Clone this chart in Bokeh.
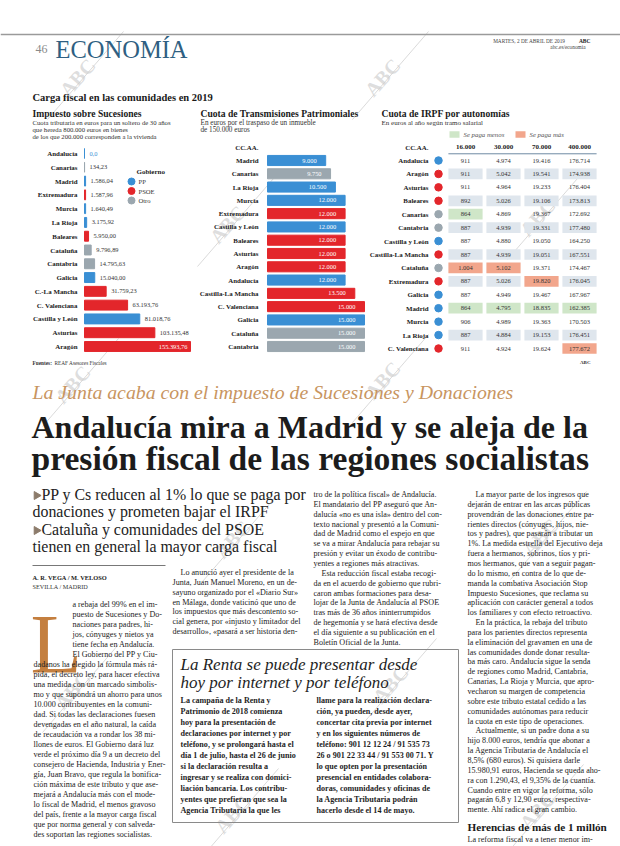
from bokeh.plotting import figure
from bokeh.models import Range1d, ColumnDataSource
from bokeh.core.properties import value
from bokeh.embed import file_html
from bokeh.resources import INLINE

SERIF = "Liberation Serif"

# ------------------------------------------------------------------ data
gov_colors = {"PP": "#3a8fd4", "PSOE": "#e3262b", "Otro": "#9ba7af"}

suc_regions = ["Andalucía", "Canarias", "Madrid", "Extremadura", "Murcia", "La Rioja",
               "Baleares", "Cataluña", "Cantabria", "Galicia", "C.-La Mancha",
               "C. Valenciana", "Castilla y León", "Asturias", "Aragón"]
suc_values = [0.0, 134.23, 1586.04, 1587.96, 1640.49, 3175.92, 5950.00, 9796.89,
              14795.63, 15040.00, 31759.23, 63193.76, 81018.76, 103135.48, 155393.76]
suc_gov = ["PP", "Otro", "PP", "PSOE", "PP", "PP", "PSOE", "Otro", "Otro", "PP",
           "PSOE", "PSOE", "PP", "PSOE", "PSOE"]

itp_regions = ["Madrid", "Canarias", "La Rioja", "Murcia", "Extremadura", "Castilla y León",
               "Baleares", "Asturias", "Aragón", "Andalucía", "Castilla-La Mancha",
               "C. Valenciana", "Galicia", "Cataluña", "Cantabria"]
itp_values = [9000, 9750, 10500, 12000, 12000, 12000, 12000, 12000, 12000, 12000,
              13500, 15000, 15000, 15000, 15000]
itp_gov = ["PP", "Otro", "PP", "PP", "PSOE", "PP", "PSOE", "PSOE", "PSOE", "PP",
           "PSOE", "PSOE", "PP", "Otro", "Otro"]

irpf_regions = ["Andalucía", "Aragón", "Asturias", "Baleares", "Canarias", "Cantabria",
                "Castilla y León", "Castilla-La Mancha", "Cataluña", "Extremadura",
                "Galicia", "Madrid", "Murcia", "La Rioja", "C. Valenciana"]
irpf_gov = ["PP", "PSOE", "PSOE", "PSOE", "Otro", "Otro", "PP", "PSOE", "Otro", "PSOE",
            "PP", "PP", "PP", "PP", "PSOE"]
irpf_brackets = ["16.000", "30.000", "70.000", "400.000"]
irpf_16 = [911, 911, 911, 892, 864, 887, 887, 887, 1004, 887, 887, 864, 906, 887, 911]
irpf_30 = [4974, 5042, 4964, 5026, 4869, 4939, 4880, 4939, 5102, 5026, 4949, 4795, 4989, 4884, 4924]
irpf_70 = [19416, 19541, 19233, 19106, 19367, 19331, 19050, 19051, 19371, 19820, 19467,
           18835, 19363, 19153, 19624]
irpf_400 = [176714, 174938, 176404, 173813, 172692, 177480, 164250, 167551, 174467, 176045,
            167967, 162385, 170503, 176451, 177672]

# ------------------------------------------------------------------ text
col1_lines = [
    "a rebaja del 99% en el im-", "puesto de Sucesiones y Do-", "naciones para padres, hi-",
    "jos, cónyuges y nietos ya", "tiene fecha en Andalucía.", "El Gobierno del PP y Ciu-",
    "dadanos ha elegido la fórmula más rá-", "pida, el decreto ley, para hacer efectiva",
    "una medida con un marcado simbolis-", "mo y que supondrá un ahorro para unos",
    "10.000 contribuyentes en la comuni-", "dad. Si todas las declaraciones fuesen",
    "devengadas en el año natural, la caída", "de recaudación va a rondar los 38 mi-",
    "llones de euros. El Gobierno dará luz", "verde el próximo día 9 a un decreto del",
    "consejero de Hacienda, Industria y Ener-", "gía, Juan Bravo, que regula la bonifica-",
    "ción máxima de este tributo y que ase-", "mejará a Andalucía más con el mode-",
    "lo fiscal de Madrid, el menos gravoso", "del país, frente a la mayor carga fiscal",
    "que por norma general y con salveda-", "des soportan las regiones socialistas."]
col2_lines = [
    "Lo anunció ayer el presidente de la", "Junta, Juan Manuel Moreno, en un de-",
    "sayuno organizado por el «Diario Sur»", "en Málaga, donde vaticinó que uno de",
    "los impuestos que más descontento so-", "cial genera, por «injusto y limitador del",
    "desarrollo», «pasará a ser historia den-"]
col3_lines = [
    "tro de la política fiscal» de Andalucía.", "El mandatario del PP aseguró que An-",
    "dalucía «no es una isla» dentro del con-", "texto nacional y presentó a la Comuni-",
    "dad de Madrid como el espejo en que", "se va a mirar Andalucía para rebajar su",
    "presión y evitar un éxodo de contribu-", "yentes a regiones más atractivas.",
    "Esta reducción fiscal estaba recogi-", "da en el acuerdo de gobierno que rubri-",
    "caron ambas formaciones para desa-", "lojar de la Junta de Andalucía al PSOE",
    "tras más de 36 años ininterrumpidos", "de hegemonía y se hará efectiva desde",
    "el día siguiente a su publicación en el", "Boletín Oficial de la Junta."]
col3_indent = [8]
col4_lines = [
    "La mayor parte de los ingresos que", "dejarán de entrar en las arcas públicas",
    "provendrán de las donaciones entre pa-", "rientes directos (cónyuges, hijos, nie-",
    "tos y padres), que pasarán a tributar un", "1%. La medida estrella del Ejecutivo deja",
    "fuera a hermanos, sobrinos, tíos y pri-", "mos hermanos, que van a seguir pagan-",
    "do lo mismo, en contra de lo que de-", "manda la combativa Asociación Stop",
    "Impuesto Sucesiones, que reclama su", "aplicación con carácter general a todos",
    "los familiares y con efecto retroactivo.", "En la práctica, la rebaja del tributo",
    "para los parientes directos representa", "la eliminación del gravamen en una de",
    "las comunidades donde donar resulta-", "ba más caro. Andalucía sigue la senda",
    "de regiones como Madrid, Cantabria,", "Canarias, La Rioja y Murcia, que apro-",
    "vecharon su margen de competencia", "sobre este tributo estatal cedido a las",
    "comunidades autónomas para reducir", "la cuota en este tipo de operaciones.",
    "Actualmente, si un padre dona a su", "hijo 8.000 euros, tendría que abonar a",
    "la Agencia Tributaria de Andalucía el", "8,5% (680 euros). Si quisiera darle",
    "15.980,91 euros, Hacienda se queda aho-", "ra con 1.290,43, el 9,35% de la cuantía.",
    "Cuando entre en vigor la reforma, sólo", "pagarán 6,8 y 12,90 euros, respectiva-",
    "mente. Ahí radica el gran cambio."]
col4_indent = [0, 13, 24]
box_left = [
    "La campaña de la Renta y", "Patrimonio de 2018 comienza", "hoy para la presentación de",
    "declaraciones por internet y por", "teléfono, y se prolongará hasta el",
    "día 1 de julio, hasta el 26 de junio", "si la declaración resulta a",
    "ingresar y se realiza con domici-", "liación bancaria. Los contribu-",
    "yentes que prefieran que sea la", "Agencia Tributaria la que les"]
box_right = [
    "llame para la realización declara-", "ción, ya pueden, desde ayer,",
    "concertar cita previa por internet", "y en los siguientes números de",
    "teléfono: 901 12 12 24 / 91 535 73", "26 o 901 22 33 44 / 91 553 00 71. Y",
    "lo que opten por la presentación", "presencial en entidades colabora-",
    "doras, comunidades y oficinas de", "la Agencia Tributaria podrán",
    "hacerlo desde el 14 de mayo."]


def fmt_es(v, dec):
    s = f"{v:,.{dec}f}"
    return s.replace(",", "X").replace(".", ",").replace("X", ".")


# ------------------------------------------------------------------ figure (page pixel coords)
W, H = 620, 846
X0, X1, Y0, Y1 = 0, 620, 0, 846
p = figure(width=W, height=H, x_range=Range1d(X0, X1), y_range=Range1d(Y1, Y0),
           output_backend="svg", toolbar_location=None, min_border=0,
           x_axis_location=None, y_axis_location=None, outline_line_color=None,
           background_fill_color="white", border_fill_color="white")
p.grid.visible = False


def lin_x(v0, p0, v1, p1):
    s = (p1 - p0) / (v1 - v0)
    return Range1d(start=v0 + (X0 - p0) / s, end=v0 + (X1 - p0) / s)


def lin_y(v0, p0, v1, p1):
    s = (p1 - p0) / (v1 - v0)
    return Range1d(start=v0 + (Y1 - p0) / s, end=v0 + (Y0 - p0) / s)


n = len(suc_regions)
p.extra_x_ranges = {
    "suc": lin_x(0, 84, max(suc_values), 190),
    "itp": lin_x(0, 267, max(itp_values), 364),
    "tab": lin_x(0, 465, len(irpf_brackets) - 1, 579),
}
p.extra_y_ranges = {
    "r1": lin_y(0, 153, n - 1, 346),
    "r2": lin_y(0, 160, n - 1, 346),
    "r3": lin_y(0, 160, n - 1, 348),
}


def txt(x, y, s, size, color="#222222", style="normal", align="left", font=SERIF,
        baseline="middle", **kw):
    parts = [x, y, s]
    m = max(len(v) if isinstance(v, list) else 1 for v in parts)
    xs, ys, ss = [v if isinstance(v, list) else [v] * m for v in parts]
    p.text(x=xs, y=ys, text=ss, text_font=value(font), text_font_size=f"{size}px",
           text_color=color, text_font_style=style, text_align=align,
           text_baseline=baseline, **kw)


# ------------------------------------------------------------------ watermarks
wm = [(85, 75), (390, 75), (235, 222), (545, 215), (80, 382), (390, 378),
      (240, 537), (548, 535), (80, 688), (398, 682), (240, 812), (545, 808)]
for (cx, cy) in wm:
    p.segment(x0=[cx - 38], y0=[cy + 44], x1=[cx + 38], y1=[cy - 44],
              line_color="#c4c4c4", line_width=0.8, line_alpha=0.8)
    txt(cx - 8, cy + 2, "ABC", 20, color="#cfcfcf", style="bold", align="center",
        angle=0.85, text_alpha=0.7)

# ------------------------------------------------------------------ header
p.segment(x0=[0], y0=[34], x1=[620], y1=[34], line_color="#9a9a9a", line_width=1.5)
txt(35, 48, "46", 12, color="#8a8a8a")
txt(55, 49, "ECONOMÍA", 24.5, color="#2f5f82")
txt(565, 40, "MARTES, 2 DE ABRIL DE 2019", 5.3, color="#444444", align="right")
txt(590, 40, "ABC", 5.5, color="#222222", style="bold", align="right")
txt(585, 46.5, "abc.es/economia", 5.3, color="#444444", align="right")

# ------------------------------------------------------------------ infographic titles
txt(32, 97, "Carga fiscal en las comunidades en 2019", 10.5, style="bold", color="#1a1a1a")
txt(32, 113, "Impuesto sobre Sucesiones", 9.6, style="bold", color="#1a1a1a")
txt(32, [122, 129, 136], ["Cuota tributaria en euros para un soltero de 30 años",
                          "que hereda 800.000 euros en bienes",
                          "de los que 200.000 corresponden a la vivienda"], 6.7, color="#333333")
txt(200, 113, "Cuota de Transmisiones Patrimoniales", 9.6, style="bold", color="#1a1a1a")
txt(200, [122, 129], ["En euros por el traspaso de un inmueble", "de 150.000 euros"],
    7.2, color="#333333")
txt(381, 113, "Cuota de IRPF por autonomías", 9.6, style="bold", color="#1a1a1a")
txt(381, 122, "En euros al año según tramo salarial", 7.0, color="#333333")

# ------------------------------------------------------------------ chart 1: Sucesiones
idx1 = list(range(n))
src1 = ColumnDataSource(dict(y=idx1, v=suc_values, c=[gov_colors[g] for g in suc_gov]))
p.hbar(y="y", left=0, right="v", height=0.72, color="c", source=src1,
       x_range_name="suc", y_range_name="r1")
p.text(x=[77] * n, y=idx1, text=suc_regions, text_font=value(SERIF), text_font_size="6.9px",
       text_font_style="bold", text_color="#222222", text_align="right",
       text_baseline="middle", y_range_name="r1")
vmax = max(suc_values)
out_i = [i for i in idx1 if suc_values[i] < vmax]
in_i = [i for i in idx1 if suc_values[i] == vmax]
p.text(x=[suc_values[i] for i in out_i], y=out_i,
       text=[fmt_es(suc_values[i], 1 if suc_values[i] == 0 else 2) for i in out_i],
       text_color=[gov_colors[suc_gov[i]] if suc_values[i] == 0 else "#333333" for i in out_i],
       text_font=value(SERIF), text_font_size="6.4px", text_align="left",
       text_baseline="middle", x_offset=5, x_range_name="suc", y_range_name="r1")
p.text(x=[suc_values[i] for i in in_i], y=in_i,
       text=[fmt_es(suc_values[i], 2) for i in in_i], text_color="white",
       text_font=value(SERIF), text_font_size="6.4px", text_align="right",
       text_baseline="middle", x_offset=-3, x_range_name="suc", y_range_name="r1")
# legend
txt(136, 171, "Gobierno", 7, style="bold", color="#222222")
leg = ["PP", "PSOE", "Otro"]
p.scatter(x=[131] * 3, y=[181, 190.5, 200], size=7, color=[gov_colors[g] for g in leg])
txt(138, [181, 190.5, 200], leg, 6.6, color="#333333")
txt(32, 362, "Fuentes:", 5.3, style="bold", color="#333333")
txt(54, 362, "REAF Asesores Fiscales", 5.3, color="#333333")

# ------------------------------------------------------------------ chart 2: Transmisiones
idx2 = list(range(len(itp_regions)))
src2 = ColumnDataSource(dict(y=idx2, v=itp_values, c=[gov_colors[g] for g in itp_gov],
                             lab=[fmt_es(v, 0) for v in itp_values]))
p.hbar(y="y", left=0, right="v", height=0.76, color="c", source=src2,
       x_range_name="itp", y_range_name="r2")
p.text(x="v", y="y", text="lab", source=src2, text_color="white", text_font=value(SERIF),
       text_font_size="6.4px", text_align="right", text_baseline="middle", x_offset=-9,
       x_range_name="itp", y_range_name="r2")
p.text(x=[258] * (len(idx2) + 1), y=[-1] + idx2, text=["CC.AA."] + itp_regions,
       text_font=value(SERIF), text_font_size="6.9px", text_font_style="bold",
       text_color="#222222", text_align="right", text_baseline="middle", y_range_name="r2")

# ------------------------------------------------------------------ chart 3: IRPF table
cols = [irpf_16, irpf_30, irpf_70, irpf_400]
cx, cy, cc = [], [], []
tx, ty, tt = [], [], []
for j, col in enumerate(cols):
    lo, hi = min(col), max(col)
    for i, v in enumerate(col):
        if v == lo:
            fill = "#cfe6c8"
        elif v == hi:
            fill = "#f2a68c"
        elif i % 2 == 1:
            fill = "#dfe6ed"
        else:
            fill = None
        if fill:
            cx.append(j); cy.append(i); cc.append(fill)
        tx.append(j); ty.append(i); tt.append(fmt_es(v, 0))
p.rect(x=cx, y=cy, width=0.9, height=0.8, fill_color=cc, line_color=None,
       x_range_name="tab", y_range_name="r3")
p.text(x=tx, y=ty, text=tt, text_font=value(SERIF), text_font_size="6.5px",
       text_color="#333333", text_align="center", text_baseline="middle",
       x_range_name="tab", y_range_name="r3")
p.text(x=list(range(len(irpf_brackets))), y=[-1] * len(irpf_brackets), text=irpf_brackets,
       text_font=value(SERIF), text_font_size="7px", text_font_style="bold",
       text_color="#222222", text_align="center", text_baseline="middle",
       x_range_name="tab", y_range_name="r3")
p.segment(x0=[-0.45], y0=[-0.5], x1=[len(irpf_brackets) - 0.55], y1=[-0.5],
          line_color="#6f8aa3", line_width=1, x_range_name="tab", y_range_name="r3")
idx3 = list(range(len(irpf_regions)))
p.text(x=[428] * (len(idx3) + 1), y=[-1] + idx3, text=["CC.AA."] + irpf_regions,
       text_font=value(SERIF), text_font_size="6.9px", text_font_style="bold",
       text_color="#222222", text_align="right", text_baseline="middle", y_range_name="r3")
p.scatter(x=[438] * len(idx3), y=idx3, size=7.5, color=[gov_colors[g] for g in irpf_gov],
          y_range_name="r3")
# legend of highlights
p.rect(x=[454, 520], y=[134, 134], width=10, height=6.5, fill_color=["#cfe6c8", "#f2a68c"],
       line_color=None)
txt([463, 529], [134, 134], ["Se paga menos", "Se paga más"], 6.8, color="#555555",
    style="italic")
txt(590, 362, "ABC", 5, style="bold", color="#333333", align="right")

# ------------------------------------------------------------------ headlines
txt(32, 391, "La Junta acaba con el impuesto de Sucesiones y Donaciones", 19.8,
    color="#c8955f", style="italic")
txt(31, 426, "Andalucía mira a Madrid y se aleja de la", 32, style="bold", color="#1c1c1c")
txt(31, 458, "presión fiscal de las regiones socialistas", 33.6, style="bold", color="#1c1c1c")
txt([41, 32, 41, 32], [494, 511, 529, 546],
    ["PP y Cs reducen al 1% lo que se paga por", "donaciones y prometen bajar el IRPF",
     "Cataluña y comunidades del PSOE", "tienen en general la mayor carga fiscal"],
    15.9, color="#222222")
p.scatter(x=[36, 36], y=[495, 530], marker="triangle", angle=-1.5708, size=8,
          color="#8c7b6b")

# ------------------------------------------------------------------ body
p.segment(x0=[32], y0=[565], x1=[165], y1=[565], line_color="#555555", line_width=0.8)
txt(32, 577, "A. R. VEGA / M. VELOSO", 6.4, style="bold", color="#222222")
txt(32, 586, "SEVILLA / MADRID", 6.2, color="#333333")
txt(30, 597, "L", 84, color="#c47f3f", baseline="top")

BODY = 8.1
LS = 9.85
c1y = [604 + 10.0 * i for i in range(len(col1_lines))]
c1x = [72 if i < 6 else 33 for i in range(len(col1_lines))]
txt(c1x, c1y, col1_lines, BODY)
c2y = [572 + LS * i for i in range(len(col2_lines))]
c2x = [180 if i == 0 else 172 for i in range(len(col2_lines))]
txt(c2x, c2y, col2_lines, BODY)
c3y = [494 + LS * i for i in range(len(col3_lines))]
c3x = [321 if i in col3_indent else 313 for i in range(len(col3_lines))]
txt(c3x, c3y, col3_lines, BODY)
c4y = [494 + LS * i for i in range(len(col4_lines))]
c4x = [475 if i in col4_indent else 467 for i in range(len(col4_lines))]
txt(c4x, c4y, col4_lines, BODY)
txt(467, 826, "Herencias de más de 1 millón", 11.2, style="bold", color="#1a1a1a")
txt(467, 839, "La reforma fiscal va a tener menor im-", BODY)

# box
p.quad(left=[172], right=[458], top=[649], bottom=[822], fill_color=None,
       line_color="#8a8a8a", line_width=1)
txt(180, [664, 682], ["La Renta se puede presentar desde", "hoy por internet y por teléfono"],
    17, style="italic", color="#1e1e1e")
by = [700 + 11.0 * i for i in range(len(box_left))]
txt(180, by, box_left, 8.1, style="bold", color="#1e1e1e")
txt(316, by, box_right, 8.1, style="bold", color="#1e1e1e")

open("out.html", "w").write(file_html(p, INLINE))
